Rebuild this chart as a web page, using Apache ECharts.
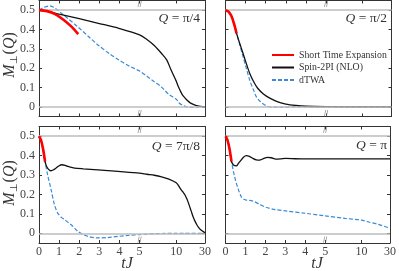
<!DOCTYPE html>
<html><head><meta charset="utf-8">
<script src="https://cdn.jsdelivr.net/npm/echarts@6/dist/echarts.min.js"></script>
<style>html,body{margin:0;padding:0;background:#fff}#c{width:399px;height:271px}</style>
</head><body><div id="c"></div>
<script>
// ---- tick labels ----
const xTickValues = [0, 1, 2, 3, 4, 5, 10, 30];
const yTickValues = [0, 0.1, 0.2, 0.3, 0.4, 0.5];
const refLines = [0, 0.5];
const breakAt = 5;
const panelLabels = ['π/4', 'π/2', '7π/8', 'π'];
const seriesNames = ['Short Time Expansion', 'Spin-2PI (NLO)', 'dTWA'];

// ---- Q = pi/4 ----
const tlRedT = [0, 0.4, 0.8, 1.2, 1.6, 1.95];
const tlRedY = [0.5, 0.495, 0.48, 0.452, 0.416, 0.376];
const tlBlackT = [0, 0.5, 1, 2, 3, 4, 5, 6, 7, 8, 8.7, 9.3, 10, 11, 12, 13, 14, 15, 17.4, 20, 24, 27, 30];
const tlBlackY = [0.5, 0.492, 0.479, 0.456, 0.431, 0.405, 0.372, 0.348, 0.317, 0.276, 0.243, 0.19, 0.133, 0.113, 0.096, 0.08, 0.066, 0.055, 0.035, 0.019, 0.006, 0.002, 0];
const tlBlueT = [0, 0.25, 0.52, 0.75, 0.93, 1.2, 1.43, 1.93, 2.5, 2.93, 3.5, 3.93, 4.5, 5, 6, 7, 8, 9, 10, 12, 15, 20, 25, 30];
const tlBlueY = [0.5, 0.515, 0.522, 0.514, 0.5, 0.477, 0.457, 0.414, 0.36, 0.32, 0.275, 0.245, 0.21, 0.185, 0.158, 0.13, 0.102, 0.064, 0.04, 0.02, 0.006, -0.003, -0.002, 0];

// ---- Q = pi/2 ----
const trRedT = [0, 0.15, 0.3, 0.45, 0.55];
const trRedY = [0.5, 0.492, 0.468, 0.42, 0.38];
const trBlackT = [0, 0.15, 0.3, 0.45, 0.55, 0.7, 0.87, 1.0, 1.2, 1.4, 1.6, 1.9, 2.2, 2.6, 3.0, 3.5, 4, 5, 10, 30];
const trBlackY = [0.5, 0.492, 0.468, 0.42, 0.38, 0.33, 0.277, 0.235, 0.174, 0.13, 0.096, 0.065, 0.045, 0.026, 0.014, 0.007, 0.003, 0.001, 0, 0];
const trBlueT = [0, 0.15, 0.3, 0.45, 0.55, 0.7, 0.87, 1.0, 1.2, 1.4, 1.53, 1.7, 2.03, 2.4, 2.7, 3.5, 5, 30];
const trBlueY = [0.5, 0.492, 0.468, 0.42, 0.38, 0.325, 0.26, 0.212, 0.139, 0.085, 0.053, 0.03, 0.005, -0.002, -0.002, 0, 0, 0];

// ---- Q = 7pi/8 ----
const blRedT = [0, 0.1, 0.2, 0.3];
const blRedY = [0.5, 0.48, 0.435, 0.37];
const blBlackT = [0, 0.1, 0.2, 0.3, 0.4, 0.57, 0.7, 0.85, 1.0, 1.13, 1.3, 1.43, 1.77, 2.2, 2.93, 3.93, 5, 6, 7, 8, 9, 10, 11.6, 13, 14.5, 16.2, 17.5, 18.6, 19.8, 20.9, 22, 23.2, 24.3, 25.5, 27, 28.5, 30];
const blBlackY = [0.5, 0.48, 0.435, 0.37, 0.34, 0.322, 0.326, 0.336, 0.348, 0.353, 0.35, 0.344, 0.336, 0.332, 0.327, 0.319, 0.31, 0.304, 0.299, 0.291, 0.279, 0.26, 0.246, 0.229, 0.214, 0.196, 0.175, 0.154, 0.128, 0.103, 0.08, 0.06, 0.044, 0.031, 0.018, 0.01, 0.003];
const blBlueT = [0, 0.1, 0.2, 0.3, 0.43, 0.6, 0.77, 0.93, 1.1, 1.27, 1.6, 1.93, 2.2, 2.43, 2.93, 3.4, 3.93, 4.5, 5, 6, 7, 8, 10, 15, 30];
const blBlueY = [0.5, 0.48, 0.435, 0.37, 0.3, 0.225, 0.147, 0.104, 0.083, 0.07, 0.044, 0.01, -0.007, -0.016, -0.024, -0.022, -0.016, -0.01, -0.007, -0.004, -0.002, -0.001, 0, 0, 0];

// ---- Q = pi ----
const brRedT = [0, 0.1, 0.2, 0.3];
const brRedY = [0.5, 0.48, 0.435, 0.37];
const brBlackT = [0, 0.1, 0.2, 0.3, 0.4, 0.54, 0.65, 0.79, 0.9, 1.04, 1.2, 1.37, 1.55, 1.7, 1.9, 2.1, 2.3, 2.52, 2.75, 3.02, 3.5, 4, 5, 10, 30];
const brBlackY = [0.5, 0.48, 0.435, 0.37, 0.352, 0.347, 0.36, 0.378, 0.392, 0.4, 0.396, 0.386, 0.378, 0.377, 0.384, 0.391, 0.389, 0.382, 0.383, 0.386, 0.384, 0.383, 0.383, 0.383, 0.383];
const brBlueT = [0, 0.1, 0.2, 0.3, 0.46, 0.63, 0.79, 0.9, 1.04, 1.37, 1.7, 2.03, 2.5, 3.02, 4.01, 5, 7.73, 10, 15, 21.8, 30];
const brBlueY = [0.5, 0.48, 0.435, 0.37, 0.29, 0.23, 0.188, 0.176, 0.171, 0.166, 0.15, 0.134, 0.122, 0.115, 0.103, 0.09, 0.077, 0.068, 0.058, 0.046, 0.026];

// ---- broken time axis: linear up to 5, compressed after ----
function U(t) {
  if (t <= 5) return t;
  if (t <= 10) return 5 + (t - 5) * 0.364;
  return 6.82 + (t - 10) * 0.0715;
}
const Y_MIN = -0.05, Y_MAX = 0.55;
const FONT = 'Liberation Serif';
const AX = '#333';

const panels = [
  {red: [tlRedT, tlRedY], black: [tlBlackT, tlBlackY], blue: [tlBlueT, tlBlueY]},
  {red: [trRedT, trRedY], black: [trBlackT, trBlackY], blue: [trBlueT, trBlueY]},
  {red: [blRedT, blRedY], black: [blBlackT, blBlackY], blue: [blBlueT, blBlueY]},
  {red: [brRedT, brRedY], black: [brBlackT, brBlackY], blue: [brBlueT, brBlueY]}
];
const grids = [
  {left: 39, top: 0.5, width: 166, height: 116},
  {left: 225.5, top: 0.5, width: 166, height: 116},
  {left: 39, top: 126.5, width: 166, height: 116.5},
  {left: 225.5, top: 126.5, width: 166, height: 116.5}
];

const xCustom = xTickValues.map(U);
function xLabel(v) {
  for (let i = 0; i < xTickValues.length; i++) if (Math.abs(xCustom[i] - v) < 1e-6) return String(xTickValues[i]);
  return '';
}
function xAxis(g, pos, showLabel) {
  return {
    type: 'value', gridIndex: g, position: pos, min: 0, max: U(30),
    axisLine: {show: true, onZero: false, lineStyle: {color: AX, width: 1}},
    axisTick: {show: true, inside: true, length: 3, customValues: xCustom, lineStyle: {color: AX, width: 1}},
    axisLabel: {show: showLabel, customValues: xCustom, formatter: xLabel, margin: 3,
      fontFamily: FONT, fontSize: 12, color: '#444'},
    splitLine: {show: false}
  };
}
function yAxis(g, pos, showLabel) {
  return {
    type: 'value', gridIndex: g, position: pos, min: Y_MIN, max: Y_MAX,
    axisLine: {show: true, onZero: false, lineStyle: {color: AX, width: 1}},
    axisTick: {show: true, inside: true, length: 3, customValues: yTickValues, lineStyle: {color: AX, width: 1}},
    axisLabel: {show: showLabel, customValues: yTickValues, formatter: v => String(+(+v).toFixed(1)), margin: 4,
      fontFamily: FONT, fontSize: 12, color: '#444'},
    splitLine: {show: false}
  };
}

const xAxes = [], yAxes = [], series = [];
panels.forEach((p, g) => {
  const bottomRow = g >= 2, leftCol = g % 2 === 0;
  xAxes.push(xAxis(g, 'bottom', bottomRow));
  xAxes.push(xAxis(g, 'top', false));
  yAxes.push(yAxis(g, 'left', leftCol));
  yAxes.push(yAxis(g, 'right', false));
  const xi = g * 2, yi = g * 2;
  const pts = arr => arr[0].map((t, i) => [U(t), arr[1][i]]);
  series.push({
    type: 'scatter', xAxisIndex: xi, yAxisIndex: yi, silent: true, z: 1,
    symbol: 'path://M0,10L1.2,10L3.2,0L2,0Z M3.4,10L4.6,10L6.6,0L5.4,0Z', symbolSize: [4, 6],
    itemStyle: {color: '#777'},
    data: [[U(breakAt), Y_MAX - 0.018], [U(breakAt), Y_MIN + 0.018]],
    markLine: {silent: true, symbol: ['none', 'none'], label: {show: false},
      lineStyle: {color: '#bdbdbd', width: 1.5, type: 'solid'},
      data: refLines.map(v => ({yAxis: v}))}
  });
  series.push({
    name: seriesNames[2], type: 'line', xAxisIndex: xi, yAxisIndex: yi, z: 3,
    data: pts(p.blue), symbol: 'none', smooth: 0.3,
    lineStyle: {color: '#3a8ad6', width: 1.2, type: [4, 2]}, itemStyle: {color: '#3a8ad6'}
  });
  series.push({
    name: seriesNames[1], type: 'line', xAxisIndex: xi, yAxisIndex: yi, z: 4,
    data: pts(p.black), symbol: 'none', smooth: 0.3,
    lineStyle: {color: '#111', width: 1.3}, itemStyle: {color: '#111'}
  });
  series.push({
    name: seriesNames[0], type: 'line', xAxisIndex: xi, yAxisIndex: yi, z: 5,
    data: pts(p.red), symbol: 'none', smooth: 0.3,
    lineStyle: {color: '#ff0000', width: 2.6}, itemStyle: {color: '#ff0000'}
  });
});

const qPos = [[200, 18], [387, 18], [200, 146], [387, 145]];
const graphic = panelLabels.map((lab, i) => ({
  type: 'text', x: qPos[i][0], y: qPos[i][1],
  style: {
    text: '{i|Q} = ' + lab, align: 'right', verticalAlign: 'middle',
    fontFamily: FONT, fontSize: 13.5, fill: '#333',
    rich: {i: {fontStyle: 'italic', fontFamily: FONT, fontSize: 13.5, fill: '#333'}}
  }
}));
[55, 183].forEach(cy => graphic.push({
  type: 'text', x: 10, y: cy, rotation: Math.PI / 2,
  style: {
    text: '{i|M}{s|⊥}({i|Q})', align: 'center', verticalAlign: 'middle',
    fontFamily: FONT, fontSize: 16, fill: '#333',
    rich: {i: {fontStyle: 'italic', fontFamily: FONT, fontSize: 16, fill: '#333'},
           s: {fontFamily: FONT, fontSize: 10, fill: '#333', padding: [8, 1, 0, 0]}}
  }
}));
[127, 317].forEach(cx => graphic.push({
  type: 'text', x: cx, y: 264,
  style: {text: 'tJ', align: 'center', verticalAlign: 'middle', fontFamily: FONT,
    fontStyle: 'italic', fontSize: 16, fill: '#333'}
}));

const chart = echarts.init(document.getElementById('c'), null, {renderer: 'canvas'});
chart.setOption({
  animation: false,
  backgroundColor: '#fff',
  grid: grids,
  xAxis: xAxes,
  yAxis: yAxes,
  legend: {
    data: seriesNames, orient: 'vertical', left: 266, top: 45,
    itemWidth: 22, itemHeight: 10, itemGap: 2.5,
    itemStyle: {opacity: 0},
    textStyle: {fontFamily: FONT, fontSize: 9.8, color: '#333', lineHeight: 10},
    selectedMode: false
  },
  series: series,
  graphic: graphic
});
</script></body></html>
